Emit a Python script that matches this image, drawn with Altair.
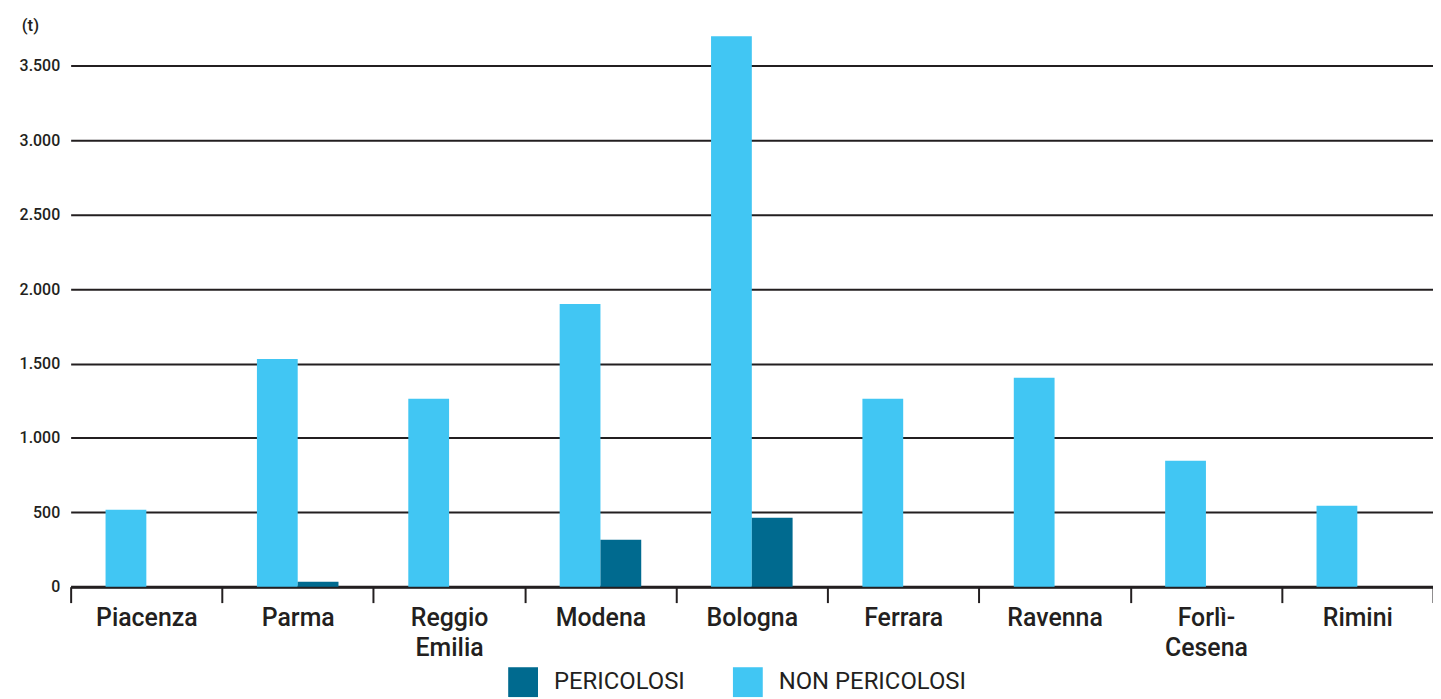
import altair as alt
import pandas as pd

province = ["Piacenza", "Parma", "Reggio Emilia", "Modena", "Bologna",
            "Ferrara", "Ravenna", "Forlì-Cesena", "Rimini"]
non_pericolosi = [518, 1530, 1263, 1900, 3700, 1263, 1404, 846, 544]
pericolosi = [0, 33, 0, 316, 463, 0, 0, 0, 0]
series = ["PERICOLOSI", "NON PERICOLOSI"]
colors = ["#006A8F", "#41C6F3"]
y_ticks = [0, 500, 1000, 1500, 2000, 2500, 3000, 3500]

rows = []
for p, n, d in zip(province, non_pericolosi, pericolosi):
    rows.append({"provincia": p, "tipo": "NON PERICOLOSI", "t": n})
    rows.append({"provincia": p, "tipo": "PERICOLOSI", "t": d})
df = pd.DataFrame(rows)

FONT = "Roboto"
INK = "#231F20"

label_expr = ("datum.label == 'Reggio Emilia' ? ['Reggio', 'Emilia'] : "
              "datum.label == 'Forlì-Cesena' ? ['Forlì-', 'Cesena'] : datum.label")

chart = alt.Chart(df).mark_bar().encode(
    x=alt.X("provincia:N", sort=province,
            scale=alt.Scale(paddingInner=0, paddingOuter=0),
            axis=alt.Axis(title=None, labelAngle=0, labelExpr=label_expr,
                          labelFont=FONT, labelFontSize=25, labelFontWeight=500,
                          labelColor=INK, labelLineHeight=30, labelPadding=3,
                          labelBaseline="top",
                          tickBand="extent", tickSize=16, tickWidth=2, tickColor=INK,
                          domainColor=INK, domainWidth=3, grid=False)),
    xOffset=alt.XOffset("tipo:N", sort=["NON PERICOLOSI", "PERICOLOSI"],
                        scale=alt.Scale(paddingOuter=0.856, paddingInner=0)),
    y=alt.Y("t:Q", scale=alt.Scale(domain=[0, 3750], nice=False),
            axis=alt.Axis(values=y_ticks, title="(t)", titleAngle=0,
                          titleX=-41, titleY=-3, titleAlign="center",
                          titleBaseline="middle", titleFont=FONT,
                          titleFontSize=17, titleFontWeight=500, titleColor=INK,
                          labelExpr="replace(format(datum.value, ',.0f'), ',', '.')",
                          labelFont=FONT, labelFontSize=16, labelFontWeight=500,
                          labelColor=INK, labelPadding=11,
                          ticks=False, domain=False,
                          grid=True, gridColor=INK, gridWidth=2, gridOpacity=1)),
    color=alt.Color("tipo:N", scale=alt.Scale(domain=series, range=colors),
                    legend=alt.Legend(title=None, orient="none", direction="horizontal",
                                      legendX=440, legendY=642,
                                      symbolType="square", symbolSize=900,
                                      symbolStrokeWidth=0, symbolOpacity=1,
                                      labelFont=FONT, labelFontSize=24,
                                      labelColor=INK, labelOffset=16,
                                      labelLimit=0, columnPadding=48)),
).properties(
    width=1370, height=561,
    autosize=alt.AutoSizeParams(type="none"),
    padding={"left": 63, "top": 19, "right": 0, "bottom": 111},
).configure_view(stroke=None)

chart.save("out.html", embed_options={"renderer": "svg", "actions": False})
